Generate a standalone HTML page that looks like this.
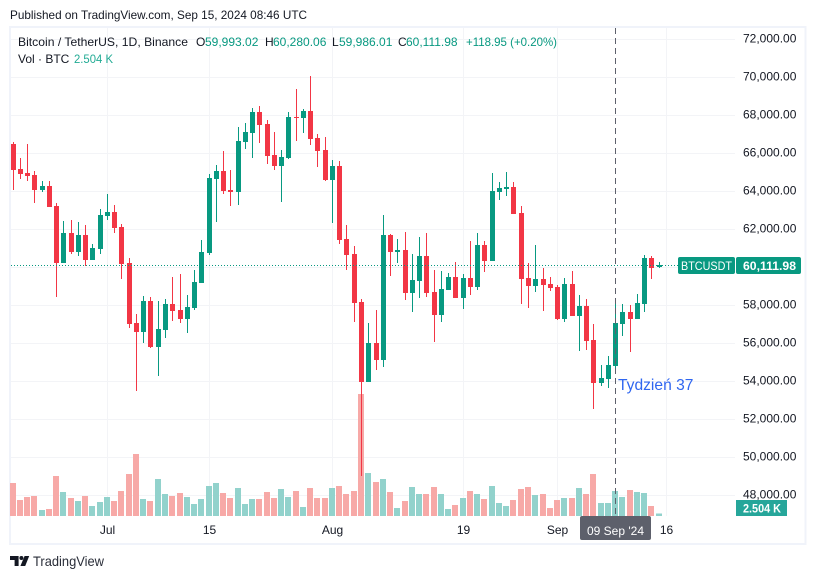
<!DOCTYPE html>
<html lang="en">
<head>
<meta charset="utf-8">
<title>BTCUSDT chart</title>
<style>
html,body{margin:0;padding:0;background:#fff;}
body{width:815px;height:579px;overflow:hidden;position:relative;font-family:"Liberation Sans",sans-serif;color:#131722;}
svg{position:absolute;left:0;top:0;}
text{font-family:"Liberation Sans",sans-serif;}
</style>
</head>
<body>
<svg id="chart" width="815" height="579" viewBox="0 0 815 579">
  <text x="10" y="19" font-size="12" fill="#131722" textLength="297" lengthAdjust="spacingAndGlyphs">Published on TradingView.com, Sep 15, 2024 08:46 UTC</text>
  <rect x="10" y="27" width="795.5" height="517" fill="#fff" stroke="#f0f3fa" stroke-width="2"/>
  <g id="grid"></g>
  <g id="volume"></g>
  <g id="candles"></g>
  <line id="priceLine" stroke="#089981" stroke-width="1" stroke-dasharray="1 2"/>
  <line x1="615.5" y1="28" x2="615.5" y2="516" stroke="#5d606b" stroke-width="1" stroke-dasharray="6 4"/>
  <text x="618" y="390" font-size="15.6" fill="#2f66f0">Tydzień 37</text>
  <g id="yAxis"></g>
  <g id="xAxis"></g>

  <g font-size="12">
    <text x="18" y="46" fill="#131722" textLength="170" lengthAdjust="spacingAndGlyphs">Bitcoin / TetherUS, 1D, Binance</text>
    <text x="196" y="46" fill="#131722">O</text>
    <text x="205" y="46" fill="#089981">59,993.02</text>
    <text x="265" y="46" fill="#131722">H</text>
    <text x="273" y="46" fill="#089981">60,280.06</text>
    <text x="332" y="46" fill="#131722">L</text>
    <text x="339" y="46" fill="#089981">59,986.01</text>
    <text x="398" y="46" fill="#131722">C</text>
    <text x="406" y="46" fill="#089981">60,111.98</text>
    <text x="466" y="46" fill="#089981" textLength="91" lengthAdjust="spacingAndGlyphs">+118.95 (+0.20%)</text>
    <text x="18" y="63" fill="#131722">Vol · BTC</text>
    <text x="74" y="63" fill="#22ab94" textLength="39" lengthAdjust="spacingAndGlyphs">2.504 K</text>
  </g>

  <g>
    <rect x="678" y="257" width="57" height="17" rx="2" fill="#089981"/>
    <text x="681" y="270" font-size="12" fill="#fff" textLength="51" lengthAdjust="spacingAndGlyphs">BTCUSDT</text>
    <rect x="736" y="257" width="65" height="17" rx="2" fill="#089981"/>
    <text x="743" y="270" font-size="12" fill="#fff" font-weight="bold" textLength="53" lengthAdjust="spacingAndGlyphs">60,111.98</text>
  </g>
  <g>
    <rect x="736" y="500" width="51" height="16" fill="#26a69a"/>
    <text x="743" y="512.5" font-size="12" fill="#fff" font-weight="bold" textLength="38" lengthAdjust="spacingAndGlyphs">2.504 K</text>
  </g>
  <g>
    <rect x="580" y="516" width="71" height="24" rx="2" fill="#5d606b"/>
    <text x="615.5" y="535" font-size="12" fill="#fff" text-anchor="middle">09 Sep '24</text>
  </g>

  <g>
    <path d="M10 556h8.6v10h-4v-6h-4.6z" fill="#131722"/>
    <circle cx="21.4" cy="558" r="2" fill="#131722"/>
    <path d="M24.6 556h4.6l-4 10h-4.8z" fill="#131722"/>
    <text x="33" y="566" font-size="14" fill="#2a2e39" textLength="71" lengthAdjust="spacingAndGlyphs">TradingView</text>
  </g>
</svg>
<script>
const opens = [66490,65176,64965,64860,64088,64281,63229,60247,61808,60826,
61703,60405,60984,62702,62913,62124,60229,57072,56616,58230,
55827,56721,58072,57756,57300,57879,59195,60774,64650,65071,
64071,63984,66597,67071,68176,67544,65913,65334,65755,67913,
67860,68228,66808,66176,64598,65334,61493,60704,58178,53968,
56021,55126,61702,60808,60913,58650,59282,60597,58703,57493,
58808,59492,58387,59440,58966,61176,60334,63965,64123,64228,
62860,59440,59019,59386,59123,58965,57281,59123,57439,57965,
56176,53914,54124,54808,57018,57650,57281,58071,60491,59993];
const highs = [66596,65754,66491,65053,64544,64544,63387,62439,62492,62387,
62229,61229,63071,63860,63281,62281,60492,57546,58493,58440,
58230,58335,59493,59650,58546,59861,61440,64913,65387,66123,
65124,67387,67597,68386,68492,67737,67123,66176,68176,69386,
68334,70070,67018,66860,65650,65597,62230,61125,58336,57073,
57757,62756,61755,61492,61860,60702,61597,61807,59861,59808,
59703,60282,59650,61387,61807,61387,64965,64491,65017,64491,
63228,60229,61176,59965,59491,59070,59439,59807,58544,58334,
57018,54861,55334,58176,58071,58018,58597,60649,60596,60280];
const lows = [64071,64649,64562,63404,63983,63194,58458,60247,60720,60615,
60089,60405,60720,62492,61825,59405,56827,53512,56037,55774,
54301,56300,57195,57090,56563,57756,59195,60669,62388,63861,
63230,63282,66229,65755,66545,65440,65124,63440,65703,66650,
67071,66439,65282,64545,62335,61230,59862,57126,49017,53968,
54600,54758,59545,60229,58282,57651,58387,58440,56072,57124,
58808,58387,57808,58545,58808,59755,60334,63544,63754,62807,
58071,57861,58703,57702,58755,57229,57123,57439,55597,55650,
52546,53756,53650,54440,56387,55545,57281,57650,59386,59986];
const closes = [65141,64930,64825,64088,64281,63194,60247,61808,60826,61703,
60405,61019,62755,62913,62089,60194,57037,56616,58230,55827,
56756,58072,57721,57300,57914,59230,60809,64703,65071,64036,
63966,66650,67123,68176,67492,65861,65334,65808,67913,67860,
68228,66755,66124,64598,65334,61440,60651,58125,53968,56021,
55126,61704,60808,60913,58650,59334,60597,58650,57493,58861,
59492,58387,59440,58966,61176,60334,64018,64175,64228,62807,
59387,59019,59387,59070,58913,57281,59123,57439,57965,56124,
53914,54177,54861,57071,57650,57281,58123,60491,59965,60112];
const volumes = [33,16,19,20,6,7,40,24,18,15,
20,10,14,19,15,25,42,62,17,15,
37,22,20,23,19,12,17,30,33,23,
18,28,12,17,17,24,18,27,19,25,
9,28,18,18,28,30,22,25,122,43,
34,37,24,8,15,29,22,22,29,22,
7,11,18,25,22,17,30,13,10,16,
27,29,21,22,8,16,18,18,28,22,
42,13,13,25,19,26,24,23,10,2.504];
const priceTicks = [72000,70000,68000,66000,64000,62000,60000,58000,56000,54000,52000,50000,48000];
const timeTickLabels = ['Jul','15','Aug','19','Sep','16'];
const timeTickDays = [13,27,44,62,75,90];
const lastPrice = 60111.98;

const NS = 'http://www.w3.org/2000/svg';
const xOf = function (i) { return Math.floor(13.02 + i * 7.26); };
const yOf = function (p) { return 39.3 + (72000 - p) * 0.019; };
const volHeight = function (v) { return v * 1; };
const VOL_BASE = 516;

function make(parent, tag, attrs) {
  const el = document.createElementNS(NS, tag);
  Object.keys(attrs).forEach(function (k) { el.setAttribute(k, attrs[k]); });
  parent.appendChild(el);
  return el;
}

const gridG = document.getElementById('grid');
const volG = document.getElementById('volume');
const candleG = document.getElementById('candles');
const yG = document.getElementById('yAxis');
const xG = document.getElementById('xAxis');

priceTicks.forEach(function (p) {
  const y = Math.floor(yOf(p)) + 0.5;
  const line = make(gridG, 'line', { x1: 11, x2: 735, y1: y, y2: y, stroke: '#f3f4f7', 'stroke-width': 1 });
  
  
  const label = make(yG, 'text', { x: 743, y: y + 3, 'font-size': 12, fill: '#131722' });
  label.textContent = p.toLocaleString('en-US', { minimumFractionDigits: 2 });
  
  
});

timeTickDays.forEach(function (d, k) {
  const x = xOf(d) + 0.5;
  const line = make(gridG, 'line', { x1: x, x2: x, y1: 28, y2: 516, stroke: '#f3f4f7', 'stroke-width': 1 });
  
  
  const label = make(xG, 'text', { x: x, y: 534, 'font-size': 12, fill: '#131722', 'text-anchor': 'middle' });
  label.textContent = timeTickLabels[k];
  
  
});

volumes.forEach(function (v, i) {
  const up = closes[i] >= opens[i];
  const h = volHeight(v);
  const bar = make(volG, 'rect', { x: xOf(i) - 3, y: VOL_BASE - h, width: 6, height: h, fill: up ? '#92d2cc' : '#f7a9a7' });
  
  
});

opens.forEach(function (o, i) {
  const c = closes[i];
  const up = c >= o;
  const color = up ? '#089981' : '#f23645';
  const x = xOf(i);
  const hiY = Math.round(yOf(highs[i]));
  const loY = Math.round(yOf(lows[i]));
  const topY = Math.round(yOf(Math.max(o, c)));
  const botY = Math.max(topY + 1, Math.round(yOf(Math.min(o, c))));
  const wick = make(candleG, 'rect', { x: x, y: hiY, width: 1, height: Math.max(1, loY - hiY), fill: color });
  
  
  const body = make(candleG, 'rect', { x: x - 2, y: topY, width: 5, height: botY - topY, fill: color });
  
  
});

const pl = document.getElementById('priceLine');
const plY = Math.floor(yOf(lastPrice)) + 0.5;
pl.setAttribute('x1', 11);
pl.setAttribute('x2', 678);
pl.setAttribute('y1', plY);
pl.setAttribute('y2', plY);
</script>
</body>
</html>
